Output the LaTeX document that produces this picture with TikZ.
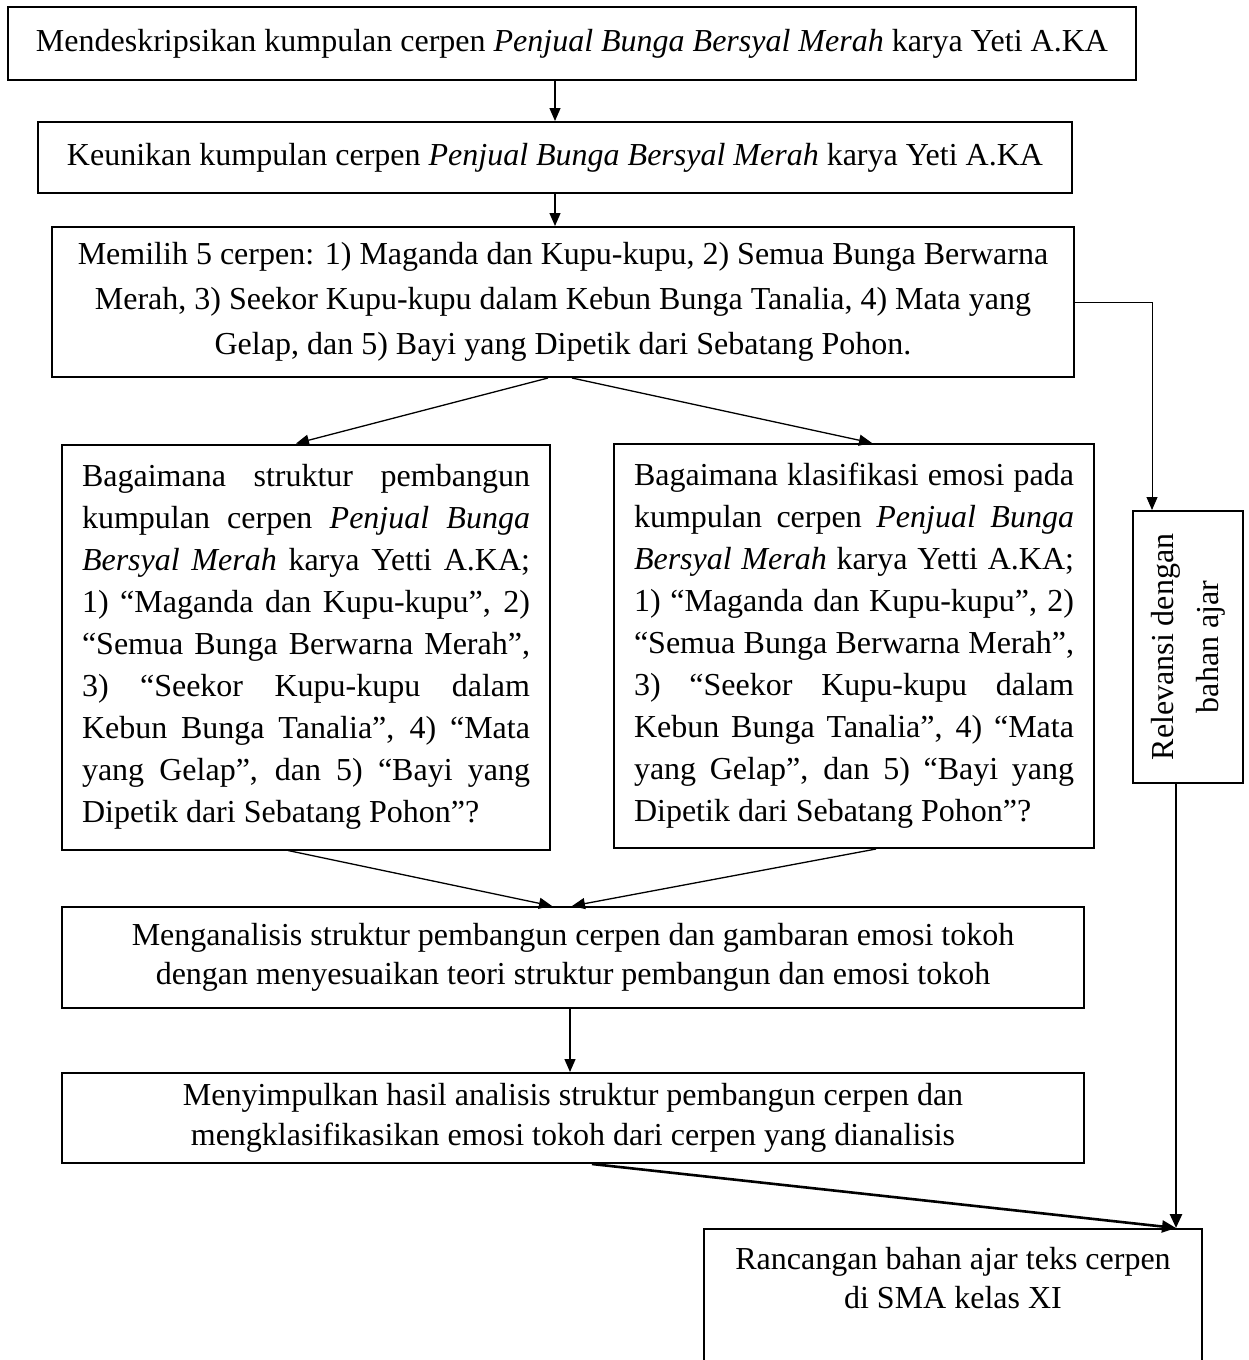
\documentclass[tikz,border=0pt]{standalone}
\usepackage{fontspec}
\setmainfont{Liberation Serif}
\usetikzlibrary{arrows.meta,calc}
\newcommand{\myjl}[2]{\makebox[#1][s]{#2}}
\newcommand{\myll}[2]{\makebox[#1][l]{#2}}
\begin{document}
\begin{tikzpicture}[x=1pt,y=-1pt,
  box/.style={draw, line width=2pt, inner sep=0pt, align=center, font=\fontsize{32}{42}\selectfont},
  txt/.style={inner sep=0pt, align=center, font=\fontsize{32}{42}\selectfont},
  arr/.style={-{Triangle[length=13pt,width=11pt]}, line width=1.3pt},
  thinarr/.style={-{Triangle[length=13pt,width=11pt]}, line width=0.9pt},
  thickarr/.style={-{Triangle[length=14pt,width=12pt]}, line width=2.6pt}]
\clip (0,0) rectangle (1249,1360);
\fill[white] (0,0) rectangle (1249,1360);

\node[box, minimum width=1128pt, minimum height=73pt] (b1) at (572,43.5)
  {Mendeskripsikan kumpulan cerpen \textit{Penjual Bunga Bersyal Merah} karya Yeti A.KA};
\node[box, minimum width=1034pt, minimum height=71pt] (b2) at (555,157.5)
  {Keunikan kumpulan cerpen \textit{Penjual Bunga Bersyal Merah} karya Yeti A.KA};
\node[box, minimum width=1022pt, minimum height=150pt, font=\fontsize{32}{45}\selectfont] (b3) at (563,302)
  {Memilih 5 cerpen: 1) Maganda dan Kupu-kupu, 2) Semua Bunga Berwarna\\
   Merah, 3) Seekor Kupu-kupu dalam Kebun Bunga Tanalia, 4) Mata yang\\
   Gelap, dan 5) Bayi yang Dipetik dari Sebatang Pohon.};

\node[box, minimum width=488pt, minimum height=405pt] (lq) at (306,647)
  {\myjl{448pt}{Bagaimana struktur pembangun}\\
   \myjl{448pt}{kumpulan cerpen \textit{Penjual Bunga}}\\
   \myjl{448pt}{\textit{Bersyal Merah} karya Yetti A.KA;}\\
   \myjl{448pt}{1) “Maganda dan Kupu-kupu”, 2)}\\
   \myjl{448pt}{“Semua Bunga Berwarna Merah”,}\\
   \myjl{448pt}{3) “Seekor Kupu-kupu dalam}\\
   \myjl{448pt}{Kebun Bunga Tanalia”, 4) “Mata}\\
   \myjl{448pt}{yang Gelap”, dan 5) “Bayi yang}\\
   \myll{448pt}{Dipetik dari Sebatang Pohon”?}};
\node[box, minimum width=480pt, minimum height=404pt] (rq) at (854,646)
  {\myjl{440pt}{Bagaimana klasifikasi emosi pada}\\
   \myjl{440pt}{kumpulan cerpen \textit{Penjual Bunga}}\\
   \myjl{440pt}{\textit{Bersyal Merah} karya Yetti A.KA;}\\
   \myjl{440pt}{1) “Maganda dan Kupu-kupu”, 2)}\\
   \myjl{440pt}{“Semua Bunga Berwarna Merah”,}\\
   \myjl{440pt}{3) “Seekor Kupu-kupu dalam}\\
   \myjl{440pt}{Kebun Bunga Tanalia”, 4) “Mata}\\
   \myjl{440pt}{yang Gelap”, dan 5) “Bayi yang}\\
   \myll{440pt}{Dipetik dari Sebatang Pohon”?}};

\node[box, minimum width=110pt, minimum height=272pt] (rel) at (1188,647) {};
\node[txt, rotate=90, font=\fontsize{32}{45}\selectfont] (reltxt) at (rel.center) {Relevansi dengan\\bahan ajar};

\node[box, minimum width=1022pt, minimum height=101pt, font=\fontsize{32}{39}\selectfont] (man) at (573,957.5)
  {Menganalisis struktur pembangun cerpen dan gambaran emosi tokoh\\
   dengan menyesuaikan teori struktur pembangun dan emosi tokoh};
\node[box, minimum width=1022pt, minimum height=90pt, font=\fontsize{32}{40}\selectfont] (men) at (573,1118)
  {Menyimpulkan hasil analisis struktur pembangun cerpen dan\\
   mengklasifikasikan emosi tokoh dari cerpen yang dianalisis};
\node[box, minimum width=498pt, minimum height=160pt, anchor=north] (ran) at (953,1228) {};
\node[txt, font=\fontsize{32}{39}\selectfont] (rantxt) at (953,1278)
  {Rancangan bahan ajar teks cerpen\\di SMA kelas XI};

\coordinate (relin) at ($(rel.north)+(-36,0)$);
\coordinate (relout) at ($(rel.south)+(-12,0)$);
\coordinate (ranin) at ($(ran.north)+(223,0)$);

\draw[arr] (b2.north |- b1.south) -- (b2.north);
\draw[arr] (b2.south) -- (b2.south |- b3.north);
\draw[arr] ($(b3.south)+(-15,0)$) -- ($(lq.north)+(-10,0)$);
\draw[arr] ($(b3.south)+(9,0)$) -- ($(rq.north)+(18,0)$);
\draw[arr] ($(lq.south)+(-18,0)$) -- ($(man.north)+(-21,0)$);
\draw[arr] ($(rq.south)+(22,0)$) -- ($(man.north)+(-1,0)$);
\draw[arr] ($(man.south)+(-3,0)$) -- ($(men.north)+(-3,0)$);
\draw[thinarr] (b3.east) -| (relin);
\draw[thickarr] (relout) -- (ranin);
\draw[thickarr] ($(men.south)+(19,0)$) -- (ranin);
\end{tikzpicture}
\end{document}
